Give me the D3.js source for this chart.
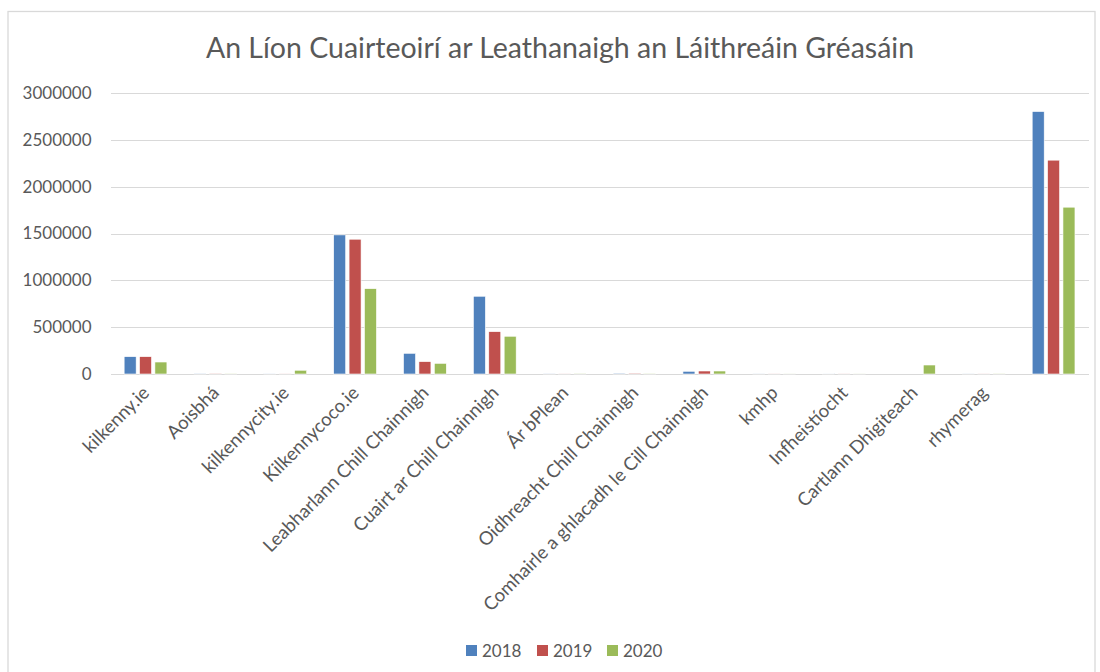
<!DOCTYPE html>
<html>
<head>
<meta charset="utf-8">
<style>
body{margin:0;background:#fff;font-family:Lato,"Open Sans",sans-serif;}
.grid line{stroke:#d9d9d9;stroke-width:1.2;shape-rendering:crispEdges;}
.ylab{font-size:17px;fill:#595959;}
.xlab{font-size:18.5px;fill:#595959;}
.title{font-size:28.5px;fill:#595959;}
.leg{font-size:17px;fill:#595959;}
</style>
</head>
<body>
<svg id="chart"></svg>
<script src="https://cdn.jsdelivr.net/npm/d3@7"></script>
<script>

var categories = ["kilkenny.ie", "Aoisbhá", "kilkennycity.ie", "Kilkennycoco.ie",
  "Leabharlann Chill Chainnigh", "Cuairt ar Chill Chainnigh", "Ár bPlean",
  "Oidhreacht Chill Chainnigh", "Comhairle a ghlacadh le Cill Chainnigh",
  "kmhp", "Infheistíocht", "Cartlann Dhigiteach", "rhymerag", ""];
var years = ["2018", "2019", "2020"];
var v2018 = [185000, 2000, 6000, 1485000, 221000, 830000, 1500, 9000, 29000, 1000, 4000, 0, 1000, 2802000];
var v2019 = [185000, 3000, 1000, 1439000, 132000, 452000, 1000, 9000, 32000, 1000, 1000, 0, 1000, 2283000];
var v2020 = [128000, 2000, 40000, 911000, 114000, 403000, 3000, 8000, 32000, 1000, 1000, 96000, 2000, 1781000];
var yTicks = [0, 500000, 1000000, 1500000, 2000000, 2500000, 3000000];
var colors = ["#4f81bd", "#c0504d", "#9bbb59"];

function buildChart(){
    var W = 1100, H = 672;
    var margin = {top: 93, right: 11.5, bottom: 298, left: 110.6};
    var width = W - margin.left - margin.right;
    var height = H - margin.top - margin.bottom;

    var svg = d3.select("#chart").attr("width", W).attr("height", H);

    // outer frame
    svg.append("rect")
        .attr("x", 8).attr("y", 11.5)
        .attr("width", 1087).attr("height", 700)
        .attr("fill", "none").attr("stroke", "#d9d9d9").attr("stroke-width", 1.3);

    svg.append("text")
        .attr("class", "title")
        .attr("x", 560).attr("y", 57.5)
        .attr("text-anchor", "middle")
        .text("An Líon Cuairteoirí ar Leathanaigh an Láithreáin Gréasáin");

    var g = svg.append("g").attr("transform", "translate(" + margin.left + "," + margin.top + ")");

    var x0 = d3.scaleBand().domain(d3.range(categories.length)).range([0, width]);
    var x1 = d3.scaleBand().domain(years).range([0, x0.bandwidth()])
        .paddingInner(0.22).paddingOuter(0.88);
    var y = d3.scaleLinear().domain([0, 3000000]).range([height, 0]);

    // gridlines
    g.append("g").attr("class", "grid")
        .selectAll("line").data(yTicks).enter().append("line")
        .attr("x1", 0).attr("x2", width)
        .attr("y1", function(d){ return Math.round(y(d)) + 0.5; })
        .attr("y2", function(d){ return Math.round(y(d)) + 0.5; });

    // y labels
    g.selectAll(".ylab").data(yTicks).enter().append("text")
        .attr("class", "ylab")
        .attr("x", -19).attr("y", function(d){ return y(d); })
        .attr("dy", "0.35em")
        .attr("text-anchor", "end")
        .text(function(d){ return d; });

    var series = [v2018, v2019, v2020];
    var groups = g.selectAll(".grp").data(categories).enter().append("g")
        .attr("class", "grp")
        .attr("transform", function(d, i){ return "translate(" + x0(i) + ",0)"; });

    groups.selectAll("rect")
        .data(function(d, i){ return years.map(function(yr, k){ return {yr: yr, v: series[k][i], k: k}; }); })
        .enter().append("rect")
        .attr("x", function(d){ return x1(d.yr); })
        .attr("width", x1.bandwidth())
        .attr("y", function(d){ return y(d.v); })
        .attr("height", function(d){ return height - y(d.v); })
        .attr("fill", function(d){ return colors[d.k]; })
        .attr("stroke", "#fff").attr("stroke-width", 0.6);

    // x labels, rotated
    g.selectAll(".xlab").data(categories).enter().append("text")
        .attr("class", "xlab")
        .attr("text-anchor", "end")
        .attr("transform", function(d, i){
            return "translate(" + (x0(i) + x0.bandwidth() / 2 + 5) + "," + (height + 20) + ") rotate(-45)";
        })
        .text(function(d){ return d; });

    // legend
    var lx = [466, 537, 607];
    var leg = svg.selectAll(".legItem").data(years).enter().append("g")
        .attr("transform", function(d, i){ return "translate(" + lx[i] + ",645)"; });
    leg.append("rect").attr("width", 11).attr("height", 11)
        .attr("fill", function(d, i){ return colors[i]; });
    leg.append("text").attr("class", "leg")
        .attr("x", 16).attr("y", 5.5).attr("dy", "0.36em")
        .text(function(d){ return d; });
}

buildChart();
</script>
</body>
</html>
